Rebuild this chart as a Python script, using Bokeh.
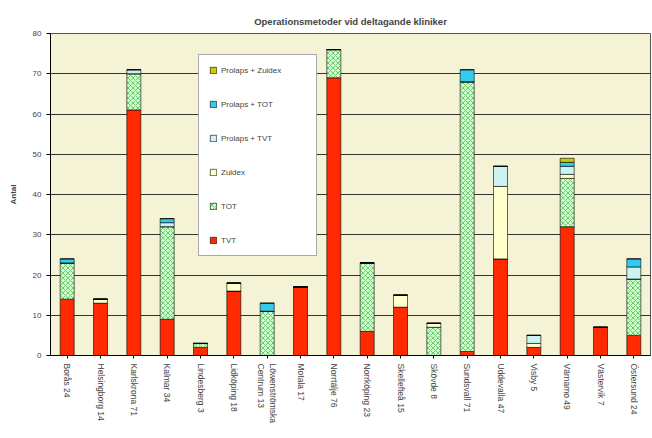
from bokeh.plotting import figure
from bokeh.models import Legend, LegendItem, FixedTicker, Range1d
from bokeh.embed import file_html
from bokeh.resources import INLINE
import math

clinics = ["Borås 24", "Helsingborg 14", "Karlskrona 71", "Kalmar 34", "Lindesberg 3",
           "Lidköping 18", "Löwenströmska\nCentrum 13", "Motala 17", "Norrtälje 76",
           "Norrköping 23", "Skellefteå 15", "Skövde 8", "Sundsvall 71", "Uddevalla 47",
           "Visby 5", "Värnamo 49", "Västervik 7", "Östersund 24"]

tvt             = [14, 13, 61,  9, 2, 16,  0, 17, 69,  6, 12, 0,  1, 24, 2, 32, 7,  5]
tot             = [ 9,  0,  9, 23, 1,  0, 11,  0,  7, 17,  0, 7, 67,  0, 0, 12, 0, 14]
zuidex          = [ 0,  1,  0,  0, 0,  2,  0,  0,  0,  0,  3, 1,  0, 18, 1,  1, 0,  0]
prolaps_tvt     = [ 0,  0,  1,  1, 0,  0,  0,  0,  0,  0,  0, 0,  0,  5, 2,  2, 0,  3]
prolaps_tot     = [ 1,  0,  0,  1, 0,  0,  2,  0,  0,  0,  0, 0,  3,  0, 0,  1, 0,  2]
prolaps_zuidex  = [ 0,  0,  0,  0, 0,  0,  0,  0,  0,  0,  0, 0,  0,  0, 0,  1, 0,  0]

series_keys = ["tvt", "tot", "zuidex", "ptvt", "ptot", "pzuidex"]
series_names = ["TVT", "TOT", "Zuidex", "Prolaps + TVT", "Prolaps + TOT", "Prolaps + Zuidex"]
colors = ["#ff2a00", "#ccffcc", "#ffffcc", "#ccf2f2", "#33ccee", "#cccc00"]
hatches = [" ", "diagonal_cross", " ", " ", " ", " "]

y_ticks = [0, 10, 20, 30, 40, 50, 60, 70, 80]

data = dict(x=clinics, tvt=tvt, tot=tot, zuidex=zuidex, ptvt=prolaps_tvt,
            ptot=prolaps_tot, pzuidex=prolaps_zuidex)

p = figure(x_range=clinics, width=652, height=438, output_backend="svg",
           toolbar_location=None, title="Operationsmetoder vid deltagande kliniker")
p.y_range = Range1d(0, 80)
p.min_border_left = 50
p.min_border_right = 2
p.min_border_top = 33
p.min_border_bottom = 83
p.background_fill_color = "#f5f3d6"
p.border_fill_color = "white"
p.outline_line_color = "#555555"

p.title.text_font = "Arial"
p.title.text_font_size = "9.5px"
p.title.text_font_style = "bold"
p.title.align = "center"
p.title.offset = 100
p.title.standoff = 14

renderers = p.vbar_stack(series_keys, x="x", width=0.42, source=data,
                         fill_color=colors, line_color="black", line_width=0.6,
                         hatch_pattern=hatches, hatch_color="#33aa33",
                         hatch_scale=5, hatch_weight=0.6)

p.xgrid.grid_line_color = None
p.ygrid.grid_line_color = "#333333"
p.ygrid.grid_line_width = 1
p.yaxis.ticker = FixedTicker(ticks=y_ticks)
p.yaxis.axis_label = "Antal"
p.yaxis.axis_label_text_font_size = "8px"
p.yaxis.axis_label_text_font_style = "bold"
p.yaxis.axis_label_standoff = 12
p.yaxis.major_label_text_font_size = "8px"
p.yaxis.minor_tick_line_color = None
p.yaxis.major_tick_in = 0
p.yaxis.major_tick_out = 4
p.xaxis.major_label_orientation = -math.pi / 2
p.xaxis.major_label_text_font_size = "8.5px"
p.xaxis.major_tick_in = 0
p.xaxis.major_tick_out = 3
p.axis.axis_line_color = "black"

items = [LegendItem(label=series_names[i], renderers=[renderers[i]]) for i in reversed(range(6))]
legend = Legend(items=items, location=(148, 99), orientation="vertical",
                label_text_font_size="8px", glyph_width=8, glyph_height=8,
                label_height=10, label_width=85,
                spacing=24, padding=10, border_line_color="#555555",
                background_fill_alpha=1, label_standoff=4, margin=0)
p.add_layout(legend, "center")

open("out.html", "w").write(file_html(p, INLINE))
